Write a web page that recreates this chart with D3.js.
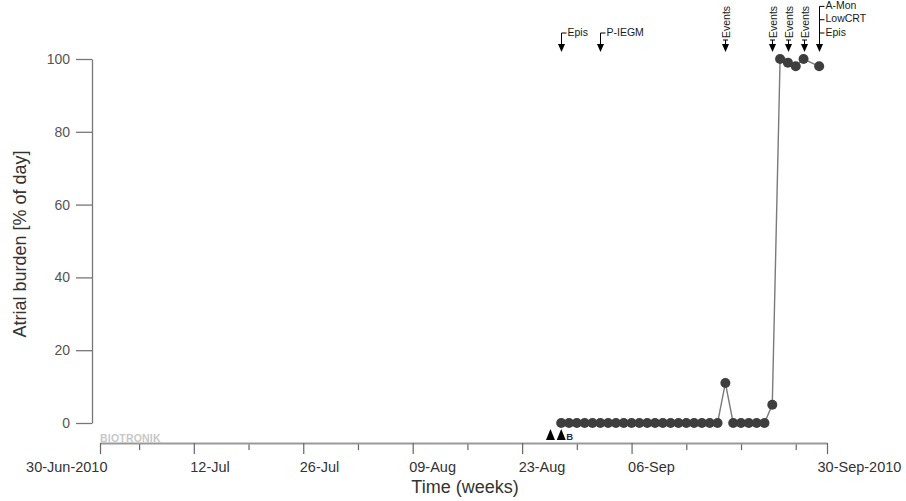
<!DOCTYPE html>
<html>
<head>
<meta charset="utf-8">
<script src="https://cdn.jsdelivr.net/npm/d3@7/dist/d3.min.js"></script>
<style>
  html, body { margin: 0; padding: 0; background: #fff; }
  svg { display: block; font-family: "Liberation Sans", Arial, sans-serif; }
</style>
</head>
<body>
<svg id="chart" width="906" height="501"></svg>
<script>
// Daily atrial burden readings (% of day)
const burdenDates = [
  "2010-08-28", "2010-08-29", "2010-08-30", "2010-08-31", "2010-09-01",
  "2010-09-02", "2010-09-03", "2010-09-04", "2010-09-05", "2010-09-06",
  "2010-09-07", "2010-09-08", "2010-09-09", "2010-09-10", "2010-09-11",
  "2010-09-12", "2010-09-13", "2010-09-14", "2010-09-15", "2010-09-16",
  "2010-09-17", "2010-09-18", "2010-09-19", "2010-09-20", "2010-09-21",
  "2010-09-22", "2010-09-23", "2010-09-24", "2010-09-25", "2010-09-26",
  "2010-09-27", "2010-09-28", "2010-09-30"
];
const burdenValues = [
  0, 0, 0, 0, 0,
  0, 0, 0, 0, 0,
  0, 0, 0, 0, 0,
  0, 0, 0, 0, 0,
  0, 11, 0, 0, 0,
  0, 0, 5, 100, 99,
  98, 100, 98
];

// Device event markers along the top of the plot
const eventDates = ["2010-08-28", "2010-09-02", "2010-09-18", "2010-09-24", "2010-09-26", "2010-09-28", "2010-09-30"];
const eventLabels = [["Epis"], ["P-IEGM"], ["Events"], ["Events"], ["Events"], ["Events"], ["Epis", "LowCRT", "A-Mon"]];
const eventVertical = [false, false, true, true, true, true, false];

// Session markers below the plot
const sessionTimes = ["2010-08-26T15:00", "2010-08-28T00:00"];
const sessionTags = ["", "B"];

// Axis extent and ticks
const axisStart = "2010-06-30";
const axisEnd = "2010-10-01";
const majorTickDates = ["2010-06-30", "2010-07-12", "2010-07-26", "2010-08-09", "2010-08-23", "2010-09-06", "2010-10-01"];
const majorTickLabels = ["30-Jun-2010", "12-Jul", "26-Jul", "09-Aug", "23-Aug", "06-Sep", "30-Sep-2010"];
const minorTickDates = ["2010-07-05", "2010-07-19", "2010-08-02", "2010-08-16", "2010-08-30", "2010-09-13", "2010-09-20", "2010-09-27"];
const yTicks = [0, 20, 40, 60, 80, 100];

const parseDay = d3.timeParse("%Y-%m-%d");
const parseTime = d3.timeParse("%Y-%m-%dT%H:%M");

const svg = d3.select("#chart");

const x = d3.scaleTime()
  .domain([parseDay(axisStart), parseDay(axisEnd)])
  .range([100, 827]);
const y = d3.scaleLinear().domain([0, 100]).range([423, 59]);

const axisY = 443;

// X axis: minor weekly ticks
const minorAxis = d3.axisBottom(x)
  .tickValues(minorTickDates.map(parseDay))
  .tickSize(7)
  .tickFormat("");
svg.append("g")
  .attr("transform", `translate(0,${axisY})`)
  .call(minorAxis)
  .call(g => g.select(".domain").remove())
  .call(g => g.selectAll("line").attr("stroke", "#666").attr("stroke-width", 1.2));

// X axis: labelled ticks
const majorDates = majorTickDates.map(parseDay);
const majorAxis = d3.axisBottom(x)
  .tickValues(majorDates)
  .tickSize(11)
  .tickPadding(8)
  .tickSizeOuter(0)
  .tickFormat((d, i) => majorTickLabels[i]);
const gx = svg.append("g")
  .attr("transform", `translate(0,${axisY})`)
  .call(majorAxis);
gx.select(".domain").attr("stroke", "#9a9a9a").attr("stroke-width", 2);
gx.selectAll(".tick line").attr("stroke", "#666").attr("stroke-width", 1.2);
gx.selectAll(".tick text")
  .attr("font-size", "14.5px")
  .attr("fill", "#333")
  .attr("font-family", "Liberation Sans, Arial, sans-serif")
  .attr("text-anchor", (d, i) => i === 0 ? "end" : "start")
  .attr("dx", (d, i) => i === 0 ? 7 : (i === majorDates.length - 1 ? -10 : -4));

// Y axis
const yAxis = d3.axisLeft(y)
  .tickValues(yTicks)
  .tickSize(16)
  .tickPadding(6)
  .tickSizeOuter(0);
const gy = svg.append("g")
  .attr("transform", "translate(92,0)")
  .call(yAxis);
gy.select(".domain").attr("stroke", "#777").attr("stroke-width", 1.3);
gy.selectAll(".tick line").attr("stroke", "#777").attr("stroke-width", 1.3);
gy.selectAll(".tick text")
  .attr("font-size", "14px")
  .attr("fill", "#555")
  .attr("font-family", "Liberation Sans, Arial, sans-serif");

// Axis titles
svg.append("text")
  .attr("x", 465).attr("y", 493)
  .attr("text-anchor", "middle")
  .attr("font-size", "18px")
  .attr("fill", "#333")
  .text("Time (weeks)");
svg.append("text")
  .attr("transform", "translate(26,244) rotate(-90)")
  .attr("text-anchor", "middle")
  .attr("font-size", "18px")
  .attr("fill", "#333")
  .text("Atrial burden [% of day]");

// Brand mark
svg.append("text")
  .attr("x", 100).attr("y", 441.5)
  .attr("font-size", "10.5px")
  .attr("font-weight", "bold")
  .attr("letter-spacing", "0.2px")
  .attr("fill", "#c8c8c8")
  .text("BIOTRONIK");

// Burden series
const series = burdenDates.map((d, i) => ({ date: parseDay(d), value: burdenValues[i] }));
const line = d3.line().x(d => x(d.date)).y(d => y(d.value));
svg.append("path")
  .datum(series)
  .attr("fill", "none")
  .attr("stroke", "#7a7a7a")
  .attr("stroke-width", 1.4)
  .attr("d", line);
svg.append("g")
  .selectAll("circle")
  .data(series)
  .join("circle")
  .attr("cx", d => x(d.date))
  .attr("cy", d => y(d.value))
  .attr("r", 5)
  .attr("fill", "#3e3e3e");

// Session markers
const sessions = sessionTimes.map((t, i) => ({ date: parseTime(t), tag: sessionTags[i] }));
const sg = svg.append("g");
sessions.forEach(s => {
  const sx = x(s.date);
  sg.append("path")
    .attr("d", `M${sx - 4.5},440 L${sx},429 L${sx + 4.5},440 Z`)
    .attr("fill", "#000");
  if (s.tag) {
    sg.append("text")
      .attr("x", sx + 5).attr("y", 440)
      .attr("font-size", "9.5px")
      .attr("font-weight", "bold")
      .attr("fill", "#1c2a55")
      .text(s.tag);
  }
});

// Event markers
const tipY = 52;
const baseLabelY = 33;
const labelStep = 13.3;
const eg = svg.append("g").attr("font-size", "10.5px").attr("fill", "#1a1a1a");
eventDates.forEach((d, i) => {
  const ex = Math.round(x(parseDay(d))) + 0.5;
  const labels = eventLabels[i];
  eg.append("path")
    .attr("d", `M${ex - 3.5},${tipY - 8} L${ex + 3.5},${tipY - 8} L${ex},${tipY} Z`)
    .attr("fill", "#000");
  if (eventVertical[i]) {
    const top = 40;
    eg.append("line")
      .attr("x1", ex).attr("x2", ex).attr("y1", top).attr("y2", tipY - 6)
      .attr("stroke", "#000").attr("stroke-width", 1);
    eg.append("line")
      .attr("x1", ex - 2.5).attr("x2", ex + 2.5).attr("y1", top).attr("y2", top)
      .attr("stroke", "#000").attr("stroke-width", 1);
    eg.append("text")
      .attr("transform", `translate(${ex + 4},${top - 2}) rotate(-90)`)
      .attr("text-anchor", "start")
      .text(labels[0]);
  } else {
    const topY = baseLabelY - labelStep * (labels.length - 1);
    eg.append("line")
      .attr("x1", ex).attr("x2", ex).attr("y1", topY).attr("y2", tipY - 6)
      .attr("stroke", "#000").attr("stroke-width", 1);
    labels.forEach((lab, k) => {
      const ly = baseLabelY - labelStep * k;
      eg.append("line")
        .attr("x1", ex).attr("x2", ex + 5).attr("y1", ly).attr("y2", ly)
        .attr("stroke", "#000").attr("stroke-width", 1);
      eg.append("text")
        .attr("x", ex + 6).attr("y", ly)
        .attr("dominant-baseline", "middle")
        .text(lab);
    });
  }
});
</script>
</body>
</html>
